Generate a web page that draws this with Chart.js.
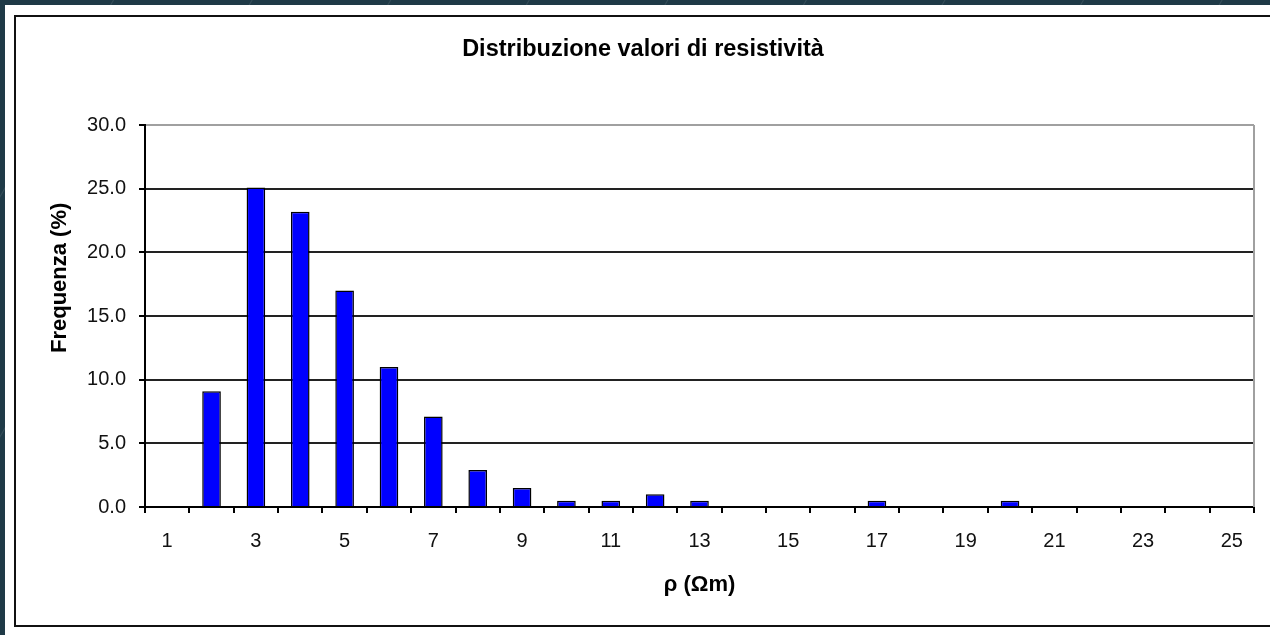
<!DOCTYPE html>
<html>
<head>
<meta charset="utf-8">
<script src="https://cdn.jsdelivr.net/npm/chart.js@4.4.1/dist/chart.umd.min.js"></script>
<style>
  html, body { margin: 0; padding: 0; }
  body {
    width: 1270px; height: 635px; overflow: hidden; position: relative;
    background: #1f3a47;
    background-image: repeating-linear-gradient(-60deg, rgba(255,255,255,0) 0px, rgba(255,255,255,0) 118px, rgba(255,255,255,0.10) 119px, rgba(255,255,255,0) 120px);
  }
  #white { position: absolute; left: 5px; top: 5px; width: 1265px; height: 630px; background: #fff; }
  #frame { position: absolute; left: 14px; top: 15px; width: 1300px; height: 608px;
           border-left: 2px solid #111; border-top: 2px solid #111; border-bottom: 2px solid #111; }
  #wrap { position: absolute; left: 0; top: 0; width: 1270px; height: 635px; }
</style>
</head>
<body>
<div id="white"></div>
<div id="frame"></div>
<div id="wrap"><canvas id="c" width="1270" height="635"></canvas></div>
<script>
const categories = ['1','2','3','4','5','6','7','8','9','10','11','12','13','14','15','16','17','18','19','20','21','22','23','24','25'];
const frequenza = [0, 9.1, 25.1, 23.2, 17.0, 11.0, 7.1, 2.9, 1.5, 0.5, 0.5, 1.0, 0.5, 0, 0, 0, 0.5, 0, 0, 0.5, 0, 0, 0, 0, 0];
const yTicks = [0, 5, 10, 15, 20, 25, 30];
const titleText = 'Distribuzione valori di resistività';
const xTitle = 'ρ (Ωm)';
const yTitle = 'Frequenza (%)';

const FONT = "'Liberation Sans', Arial, sans-serif";

const extras = {
  id: 'extras',
  afterDraw(chart) {
    const {ctx, chartArea: a} = chart;
    ctx.save();
    // right plot border (grey)
    ctx.strokeStyle = '#a0a0a0';
    ctx.lineWidth = 2;
    ctx.beginPath();
    ctx.moveTo(a.right, a.top);
    ctx.lineTo(a.right, a.bottom);
    ctx.stroke();
    // y axis title
    ctx.fillStyle = '#000';
    ctx.font = "bold 22px " + FONT;
    ctx.textAlign = 'center';
    ctx.textBaseline = 'middle';
    ctx.translate(60, a.top + (a.bottom - a.top) * 0.4);
    ctx.rotate(-Math.PI / 2);
    ctx.fillText(yTitle, 0, 0);
    ctx.restore();
  }
};

new Chart(document.getElementById('c'), {
  type: 'bar',
  data: {
    labels: categories,
    datasets: [{
      data: frequenza,
      backgroundColor: '#0000ff',
      borderColor: '#000',
      borderWidth: 1.5,
      barPercentage: 0.42,
      categoryPercentage: 1.0
    }]
  },
  options: {
    responsive: false,
    animation: false,
    layout: { padding: { left: 16, right: 0, top: 0, bottom: 0 } },
    plugins: {
      legend: { display: false },
      tooltip: { enabled: false },
      title: {
        display: true,
        text: titleText,
        color: '#000',
        font: { family: FONT, size: 23.5, weight: 'bold', lineHeight: 1.2 },
        padding: { top: 35.9, bottom: 61 }
      }
    },
    scales: {
      x: {
        type: 'category',
        offset: true,
        afterFit(s) { s.height = 128; },
        grid: { display: true, drawOnChartArea: false, drawTicks: true, tickLength: 6, color: '#000', lineWidth: 2, offset: true },
        border: { display: true, color: '#000', width: 2 },
        ticks: {
          autoSkip: false, maxRotation: 0, minRotation: 0,
          padding: 16, color: '#111',
          font: { family: FONT, size: 20 },
          callback(v, i) { return i % 2 === 0 ? categories[i] : ''; }
        },
        title: {
          display: true, text: xTitle, color: '#000',
          font: { family: FONT, size: 22, weight: 'bold', lineHeight: 1.2 },
          padding: { top: 0, bottom: 36.8 }
        }
      },
      y: {
        min: 0, max: 30,
        afterFit(s) { s.width = 129; },
        afterBuildTicks(s) { s.ticks = yTicks.map(v => ({ value: v })); },
        grid: {
          color: (c) => (c.tick && c.tick.value === 30) ? '#a0a0a0' : '#222',
          tickColor: '#000', lineWidth: 2, tickLength: 6
        },
        border: { display: true, color: '#000', width: 2 },
        ticks: {
          padding: 13, color: '#111',
          font: { family: FONT, size: 20 },
          callback(v) { return Number(v).toFixed(1); }
        },
        title: { display: false }
      },
      yRight: {
        position: 'right',
        display: true,
        min: 0, max: 30,
        afterFit(s) { s.width = 16; },
        grid: { display: false, drawTicks: false },
        border: { display: false },
        ticks: { display: false }
      }
    }
  },
  plugins: [extras]
});
</script>
</body>
</html>
